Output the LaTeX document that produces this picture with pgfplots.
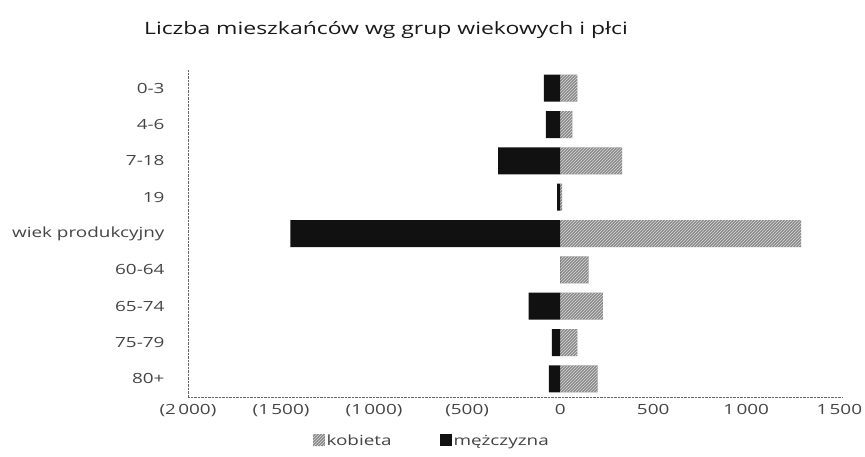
\documentclass[border=0pt]{standalone}
\usepackage{fontspec}
\setmainfont{Open Sans}[FakeStretch=1.35]
\usepackage{pgfplots}
\pgfplotsset{compat=1.18}
\usetikzlibrary{patterns}
\definecolor{txt}{HTML}{444444}
\definecolor{fem}{HTML}{8A8A8A}
\definecolor{mal}{HTML}{111111}

\pgfplotstableread{
idx female male
0 93 -87
1 66 -77
2 333 -333
3 10 -16
4 1295 -1450
5 153 0
6 230 -169
7 93 -44
8 202 -60
}\agedata

\begin{document}
\begin{tikzpicture}[font=\fontsize{14}{16}\selectfont, text=txt]
\useasboundingbox (-188pt,-60pt) rectangle (677pt,397pt);
\begin{axis}[
  at={(0,0)}, anchor=south west,
  scale only axis,
  width=655pt, height=327pt,
  xbar, bar shift=0pt, bar width=27pt,
  xmin=-2000, xmax=1520,
  ymin=-0.5, ymax=8.5, y dir=reverse,
  xtick={-2000,-1500,-1000,-500,0,500,1000,1500},
  xticklabels={(2\,000),(1\,500),(1\,000),(500),0,500,1\,000,1\,500},
  ytick={0,...,8},
  yticklabels={0-3,4-6,7-18,19,wiek produkcyjny,60-64,65-74,75-79,80+},
  major tick length=0pt,
  axis x line*=bottom, axis y line*=left,
  axis line style={draw=black!60, densely dotted, -},
  x tick label style={yshift=-4pt, text=txt},
  y tick label style={xshift=-20pt, text=txt},
  legend style={at={(0.372,-0.135)}, anchor=center, draw=none, fill=none,
    legend columns=2, /tikz/every even column/.append style={column sep=46pt},
    font=\fontsize{14}{16}\selectfont, text=txt},
  legend image code/.code={\fill[#1] (0pt,-5pt) rectangle (12pt,7pt);},
]
\addplot[fill=fem, draw=none, postaction={pattern=north east lines, pattern color=white!85!black}] table[x=female, y=idx] {\agedata};
\addlegendentry{kobieta}
\addplot[fill=mal, draw=none] table[x=male, y=idx] {\agedata};
\addlegendentry{mężczyzna}
\end{axis}
\node[font=\fontsize{17}{19}\selectfont, text=black!90] at (198pt,367pt) {Liczba mieszkańców wg grup wiekowych i płci};
\end{tikzpicture}
\end{document}
